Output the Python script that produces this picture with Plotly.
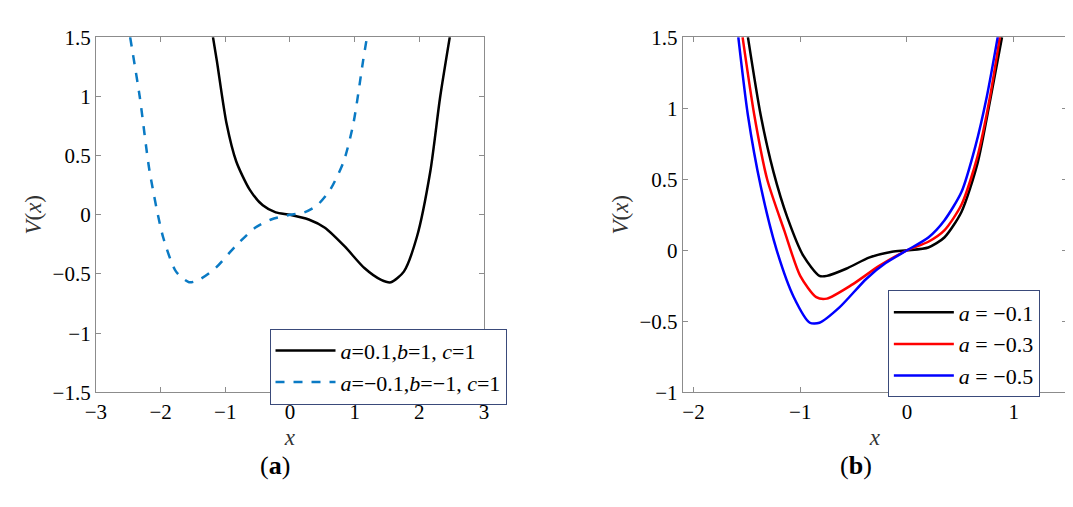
import plotly.graph_objects as go

# panel (a) values
xa_black = [-1.19, -1.13, -0.98, -0.83, -0.62, -0.42, -0.22, 0.0, 0.29, 0.54, 0.85, 1.15, 1.41, 1.56, 1.76, 1.96, 2.17, 2.32, 2.47]
va_black = [1.5, 1.30, 0.77, 0.45, 0.21, 0.08, 0.02, 0.0, -0.04, -0.11, -0.27, -0.45, -0.55, -0.57, -0.48, -0.19, 0.37, 0.99, 1.5]
xa_blue = [-2.47, -2.32, -2.17, -1.96, -1.76, -1.56, -1.41, -1.15, -0.85, -0.54, -0.29, 0.0, 0.22, 0.42, 0.62, 0.83, 0.98, 1.13, 1.19]
va_blue = [1.5, 0.99, 0.37, -0.19, -0.48, -0.57, -0.55, -0.45, -0.27, -0.11, -0.04, 0.0, 0.02, 0.08, 0.21, 0.45, 0.77, 1.30, 1.5]

# panel (b)
xb_01 = [-1.49, -1.37, -1.25, -1.12, -0.97, -0.82, -0.75, -0.57, -0.35, -0.14, 0.0, 0.2, 0.35, 0.51, 0.66, 0.78, 0.89]
vb_01 = [1.5, 0.95, 0.55, 0.23, -0.04, -0.18, -0.18, -0.13, -0.05, -0.01, 0.0, 0.02, 0.09, 0.27, 0.61, 1.06, 1.5]
xb_03 = [-1.54, -1.43, -1.31, -1.15, -1.0, -0.85, -0.75, -0.51, -0.26, 0.0, 0.2, 0.35, 0.51, 0.66, 0.78, 0.87]
vb_03 = [1.5, 0.95, 0.5, 0.14, -0.18, -0.33, -0.34, -0.24, -0.11, 0.0, 0.06, 0.14, 0.32, 0.66, 1.09, 1.5]
xb_05 = [-1.58, -1.49, -1.37, -1.22, -1.06, -0.91, -0.82, -0.63, -0.38, -0.2, 0.0, 0.2, 0.35, 0.51, 0.64, 0.75, 0.85]
vb_05 = [1.5, 0.95, 0.45, 0.0, -0.33, -0.51, -0.51, -0.40, -0.2, -0.09, 0.0, 0.09, 0.21, 0.41, 0.73, 1.09, 1.5]

FONT = "Times New Roman, Liberation Serif, serif"
fig = go.Figure()

fig.add_trace(go.Scatter(x=xa_black, y=va_black, mode="lines", line=dict(color="black", width=2.5, shape="spline", smoothing=0.7),
                         name="<i>a</i>=0.1,<i>b</i>=1, <i>c</i>=1", legend="legend"))
fig.add_trace(go.Scatter(x=xa_blue, y=va_blue, mode="lines", line=dict(color="#0a7ac4", width=2.5, dash="dash", shape="spline", smoothing=0.7),
                         name="<i>a</i>=−0.1,<i>b</i>=−1, <i>c</i>=1", legend="legend"))

for xs, vs, c, lab in [(xb_01, vb_01, "black", "−0.1"), (xb_03, vb_03, "red", "−0.3"), (xb_05, vb_05, "blue", "−0.5")]:
    fig.add_trace(go.Scatter(x=xs, y=vs, mode="lines", line=dict(color=c, width=2.5, shape="spline", smoothing=0.7),
                             name=f"<i>a</i> = {lab}", xaxis="x2", yaxis="y2", legend="legend2"))

ax = dict(showgrid=False, zeroline=False, showline=True, mirror="ticks", linecolor="#8c8c8c", linewidth=1,
          ticks="inside", ticklen=5, tickcolor="#8c8c8c", tickfont=dict(family=FONT, size=21, color="black"))
tfont = dict(family=FONT, size=23, color="#333333")
ydom = [0.229, 0.9645]
leg = dict(font=dict(family=FONT, size=22, color="black"), bgcolor="white", bordercolor="#3a4a7a", borderwidth=1,
           xanchor="left", yanchor="top", tracegroupgap=0, itemwidth=60)

fig.update_layout(
    width=1073, height=507, margin=dict(l=0, r=0, t=0, b=0),
    plot_bgcolor="white", paper_bgcolor="white",
    xaxis=dict(ax, domain=[0.0727, 0.44], range=[-3, 3], dtick=1,
               title=dict(text="<i>x</i>", font=tfont, standoff=6)),
    yaxis=dict(ax, domain=ydom, range=[-1.5, 1.5], dtick=0.5,
               title=dict(text="<i>V</i>(<i>x</i>)", font=tfont, standoff=4)),
    xaxis2=dict(ax, domain=[0.628, 0.9916], range=[-2.1, 1.5], tickvals=[-2, -1, 0, 1], anchor="y2",
                title=dict(text="<i>x</i>", font=tfont, standoff=6)),
    yaxis2=dict(ax, domain=ydom, range=[-1, 1.5], dtick=0.5, anchor="x2",
                title=dict(text="<i>V</i>(<i>x</i>)", font=tfont, standoff=4)),
    legend=dict(leg, x=0.237, y=0.361),
    legend2=dict(leg, x=0.822, y=0.44),
    annotations=[
        dict(text="(<b>a</b>)", x=243 / 1073, y=1 - 485 / 507, xref="paper", yref="paper", showarrow=False,
             font=dict(family=FONT, size=26, color="black")),
        dict(text="(<b>b</b>)", x=868 / 1073, y=1 - 485 / 507, xref="paper", yref="paper", showarrow=False,
             font=dict(family=FONT, size=26, color="black")),
    ],
)

fig.write_html("out.html")
